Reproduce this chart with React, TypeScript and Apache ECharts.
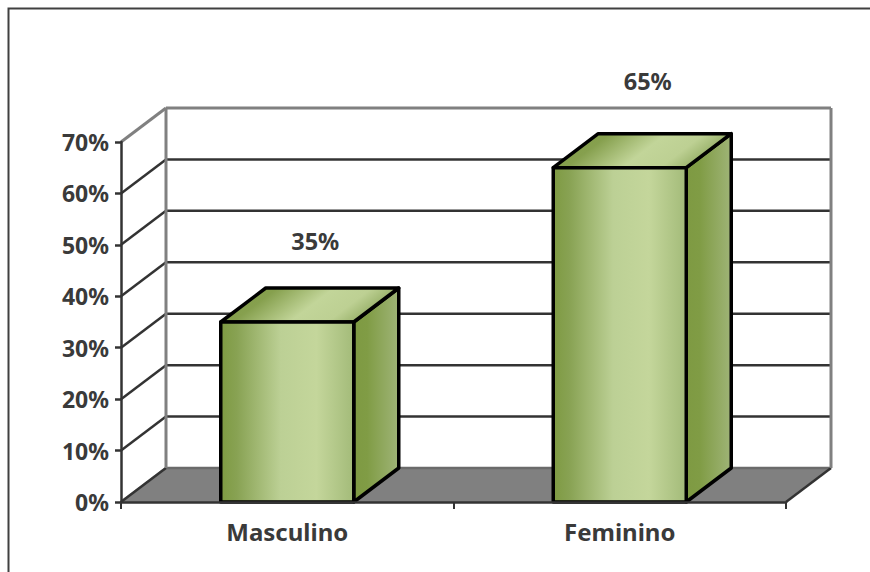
import React, { useEffect, useRef } from "react";
import * as echarts from "echarts";

const categories = ["Masculino", "Feminino"];
const shares = [35, 65];
const yTicks = [0, 10, 20, 30, 40, 50, 60, 70];

const DEPTH_X = 45;
const DEPTH_Y = -34;
const FONT = "'Noto Sans', sans-serif";
const INK = "#3a3a3a";
const DARK = "#333333";
const GRAY = "#808080";

const frontFill = new echarts.graphic.LinearGradient(0, 0, 1, 0, [
  { offset: 0, color: "#7e9a42" },
  { offset: 0.12, color: "#88a253" },
  { offset: 0.45, color: "#bcd095" },
  { offset: 0.72, color: "#c4d69b" },
  { offset: 1, color: "#a3bb79" },
]);
const sideFill = new echarts.graphic.LinearGradient(0, 0, 1, 0, [
  { offset: 0, color: "#7e9a42" },
  { offset: 0.3, color: "#809c45" },
  { offset: 1, color: "#9fb477" },
]);
const topFill = new echarts.graphic.LinearGradient(0, 0, 1, 0.25, [
  { offset: 0, color: "#7e9a42" },
  { offset: 0.3, color: "#86a04e" },
  { offset: 0.6, color: "#c2d599" },
  { offset: 0.8, color: "#bdd093" },
  { offset: 1, color: "#8fa95f" },
]);

function renderFloor(params: any, api: any) {
  const cs = params.coordSys;
  const y = api.coord([0, 0])[1];
  const l = cs.x;
  const r = cs.x + cs.width;
  return {
    type: "group",
    silent: true,
    children: [
      {
        type: "polygon",
        shape: { points: [[l, y], [r, y], [r + DEPTH_X, y + DEPTH_Y], [l + DEPTH_X, y + DEPTH_Y]] },
        style: { fill: "#808080", stroke: "none" },
      },
      {
        type: "line",
        shape: { x1: l + DEPTH_X, y1: y + DEPTH_Y, x2: r + DEPTH_X, y2: y + DEPTH_Y },
        style: { stroke: "#6a6a6a", lineWidth: 2.5 },
      },
      {
        type: "line",
        shape: { x1: l, y1: y, x2: l + DEPTH_X, y2: y + DEPTH_Y },
        style: { stroke: "#8c8c8c", lineWidth: 2.5 },
      },
      {
        type: "line",
        shape: { x1: r, y1: y, x2: r + DEPTH_X, y2: y + DEPTH_Y },
        style: { stroke: DARK, lineWidth: 2.5 },
      },
    ],
  };
}

function renderWall(params: any, api: any) {
  const cs = params.coordSys;
  const tick = api.value(1);
  const y = api.coord([0, tick])[1];
  const l = cs.x;
  const r = cs.x + cs.width;
  const edge = tick === yTicks[yTicks.length - 1];
  const width = edge ? 3 : 2.5;
  const children: any[] = [
    {
      type: "line",
      shape: { x1: l, y1: y, x2: l + DEPTH_X, y2: y + DEPTH_Y },
      style: { stroke: edge ? GRAY : DARK, lineWidth: width },
    },
  ];
  if (tick !== 0) {
    children.push({
      type: "line",
      shape: { x1: l + DEPTH_X, y1: y + DEPTH_Y, x2: r + DEPTH_X, y2: y + DEPTH_Y },
      style: { stroke: edge ? GRAY : DARK, lineWidth: width },
    });
  }
  if (edge) {
    const y0 = api.coord([0, 0])[1];
    children.push(
      {
        type: "line",
        shape: { x1: l + DEPTH_X, y1: y + DEPTH_Y, x2: l + DEPTH_X, y2: y0 + DEPTH_Y },
        style: { stroke: GRAY, lineWidth: 3 },
      },
      {
        type: "line",
        shape: { x1: r + DEPTH_X, y1: y + DEPTH_Y, x2: r + DEPTH_X, y2: y0 + DEPTH_Y },
        style: { stroke: GRAY, lineWidth: 3 },
      }
    );
  }
  return { type: "group", silent: true, children };
}

function renderBar(_params: any, api: any) {
  const value = api.value(1);
  const [cx, top] = api.coord([api.value(0), value]);
  const [, base] = api.coord([api.value(0), 0]);
  const w = api.size([1, 0])[0] * 0.4;
  const l = cx - w / 2;
  const r = cx + w / 2;
  const edge = { stroke: "#000000", lineWidth: 3.5, lineJoin: "round" };
  const labelGap = 81 + ((value - 35) / 30) * 6;
  return {
    type: "group",
    children: [
      {
        type: "polygon",
        shape: { points: [[r, top], [r + DEPTH_X, top + DEPTH_Y], [r + DEPTH_X, base + DEPTH_Y], [r, base]] },
        style: { fill: sideFill, ...edge },
      },
      {
        type: "polygon",
        shape: { points: [[l, top], [l + DEPTH_X, top + DEPTH_Y], [r + DEPTH_X, top + DEPTH_Y], [r, top]] },
        style: { fill: topFill, ...edge },
      },
      {
        type: "rect",
        shape: { x: l, y: top, width: w, height: base - top },
        style: { fill: frontFill, ...edge },
      },
      {
        type: "text",
        x: cx + 28,
        y: top - labelGap,
        style: {
          text: value + "%",
          fill: INK,
          font: `bold 23.5px ${FONT}`,
          align: "center",
          verticalAlign: "middle",
        },
      },
    ],
  };
}

export default function App() {
  const ref = useRef<HTMLDivElement>(null);
  useEffect(() => {
    const chart = echarts.init(ref.current!, undefined, { renderer: "svg" });
    chart.setOption({
      animation: false,
      backgroundColor: "#ffffff",
      graphic: [
        {
          type: "polyline",
          silent: true,
          shape: { points: [[8.5, 572], [8.5, 8.5], [870, 8.5]] },
          style: { stroke: "#404040", fill: "none", lineWidth: 2 },
        },
      ],
      grid: { left: 121, right: 84, top: 142, bottom: 70, containLabel: false },
      xAxis: {
        type: "category",
        data: categories,
        z: 5,
        axisLine: { lineStyle: { color: DARK, width: 2.5 } },
        axisTick: { show: true, alignWithLabel: false, length: 7, lineStyle: { color: DARK, width: 2 } },
        axisLabel: { color: INK, fontFamily: FONT, fontWeight: "bold", fontSize: 24, margin: 17, interval: 0 },
        splitLine: { show: false },
      },
      yAxis: {
        type: "value",
        min: 0,
        max: 70,
        interval: 10,
        z: 5,
        axisLine: { show: true, lineStyle: { color: DARK, width: 2.5 } },
        axisTick: { show: true, length: 6, lineStyle: { color: DARK, width: 2.5 } },
        axisLabel: { color: INK, fontFamily: FONT, fontWeight: "bold", fontSize: 23, margin: 12, padding: [0, 0, 2, 0], formatter: "{value}%" },
        splitLine: { show: false },
      },
      series: [
        { type: "custom", coordinateSystem: "cartesian2d", z: 1, clip: false, silent: true, renderItem: renderFloor, data: [[0, 0]], encode: { x: 0, y: 1 } },
        { type: "custom", coordinateSystem: "cartesian2d", z: 2, clip: false, silent: true, renderItem: renderWall, data: yTicks.map((t) => [0, t]), encode: { x: 0, y: 1 } },
        { type: "custom", coordinateSystem: "cartesian2d", z: 3, clip: false, renderItem: renderBar, data: categories.map((_, i) => [i, shares[i]]), encode: { x: 0, y: 1 } },
      ],
    });
    return () => chart.dispose();
  }, []);
  return <div ref={ref} style={{ position: "absolute", left: 0, top: 0, width: 870, height: 572 }} />;
}
